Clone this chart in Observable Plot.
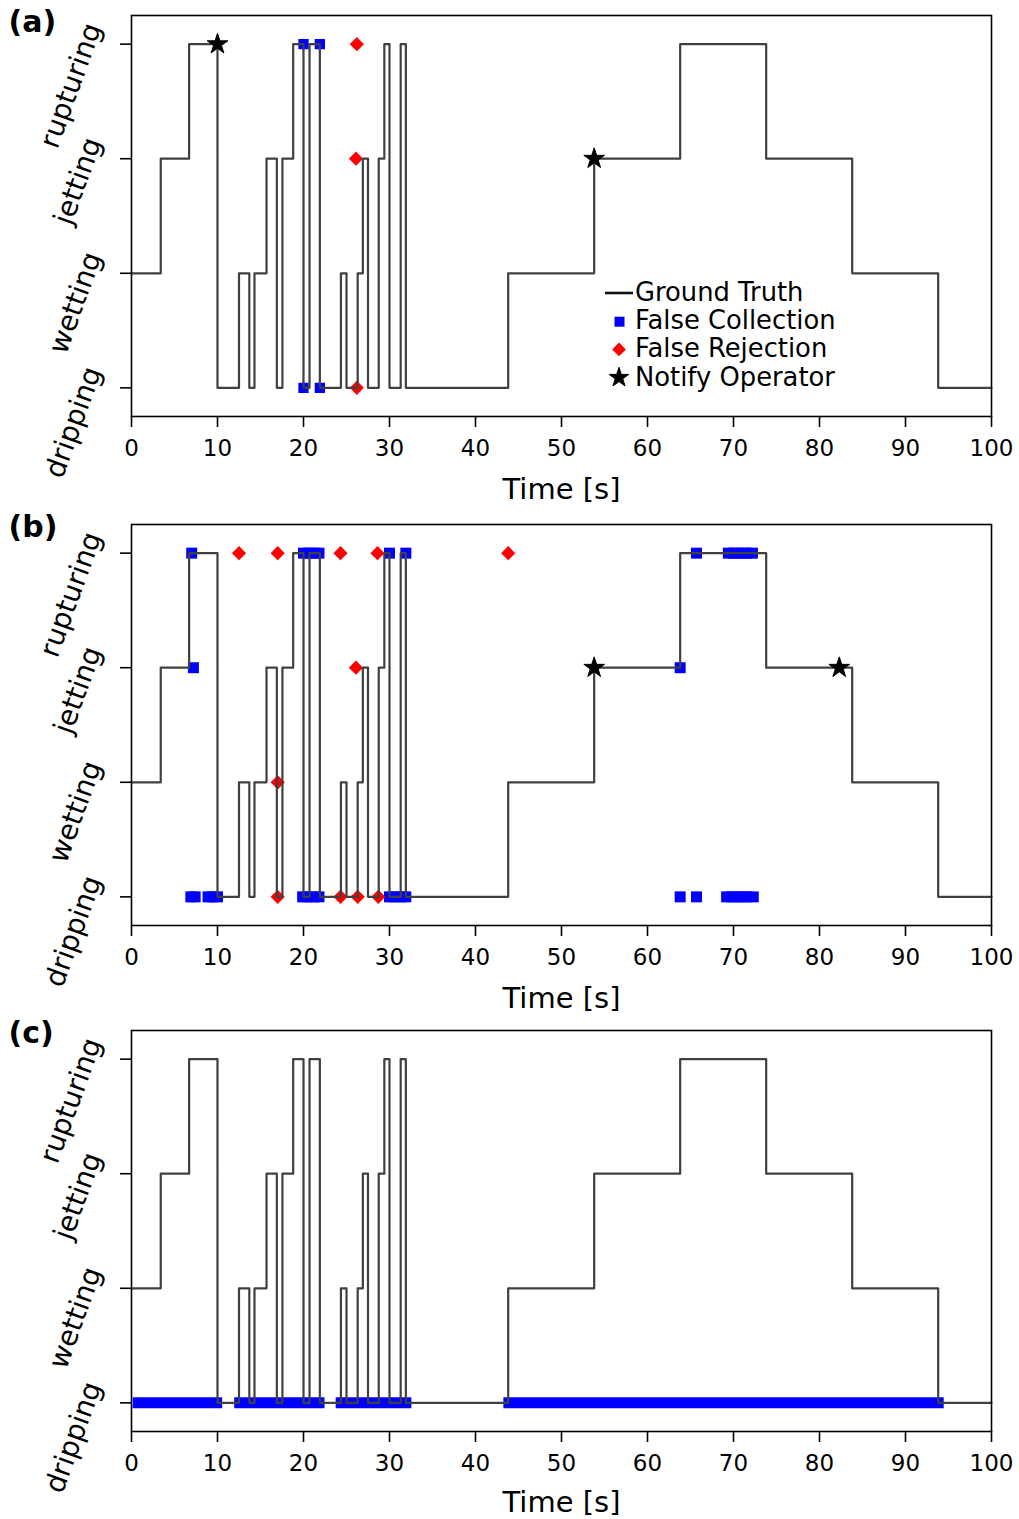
<!DOCTYPE html>
<html><head><meta charset="utf-8">
<script src="https://cdn.jsdelivr.net/npm/d3@7"></script>
<script src="https://cdn.jsdelivr.net/npm/@observablehq/plot@0.6"></script>
<style>
body{margin:0;background:#fff;font-family:"DejaVu Sans",sans-serif;}
#root{position:relative;width:1019px;height:1519px;overflow:hidden;}
#root svg{display:block;}
#legend{position:absolute;left:0;top:0;}
</style></head><body><div id="root"></div>
<script>
// ---- data ----
const categories = ["dripping", "wetting", "jetting", "rupturing"];
const xTicks = [0, 10, 20, 30, 40, 50, 60, 70, 80, 90, 100];

// ground truth (step changes: time -> state)
const gtTime  = [0, 3.4, 6.7, 10.0, 12.5, 13.7, 14.3, 15.7, 16.9, 17.55, 18.8, 20.0, 20.7, 21.9, 24.35, 25.0, 26.3, 26.9, 27.5, 28.75, 29.4, 30.0, 31.3, 31.9, 43.8, 53.8, 63.8, 73.8, 83.8, 93.8, 100];
const gtState = ["wetting","jetting","rupturing","dripping","wetting","dripping","wetting","jetting","dripping","jetting","rupturing","dripping","rupturing","dripping","wetting","dripping","wetting","jetting","dripping","jetting","rupturing","dripping","rupturing","dripping","wetting","jetting","rupturing","jetting","wetting","dripping","dripping"];

// panel (a)
const aCollectionT = [20.0, 21.9, 20.0, 21.9];
const aCollectionS = ["rupturing","rupturing","dripping","dripping"];
const aRejectionT  = [26.2, 26.1, 26.2];
const aRejectionS  = ["rupturing","jetting","dripping"];
const aNotifyT     = [10.0, 53.8];
const aNotifyS     = ["rupturing","jetting"];

// panel (b)
const bCollectionT = [7.0, 20.0, 20.6, 21.2, 21.8, 30.0, 31.9, 65.7, 69.4, 70.0, 70.5, 71.1, 71.6, 72.2,
                      7.2, 63.8,
                      6.9, 7.4, 8.9, 9.4, 10.0, 19.9, 20.5, 21.2, 21.8, 30.0, 30.6, 31.3, 31.9, 63.8, 65.7, 69.2, 69.8, 70.4, 71.0, 71.6, 72.3];
const bCollectionS = ["rupturing","rupturing","rupturing","rupturing","rupturing","rupturing","rupturing","rupturing","rupturing","rupturing","rupturing","rupturing","rupturing","rupturing",
                      "jetting","jetting",
                      "dripping","dripping","dripping","dripping","dripping","dripping","dripping","dripping","dripping","dripping","dripping","dripping","dripping","dripping","dripping","dripping","dripping","dripping","dripping","dripping","dripping"];
const bRejectionT  = [12.5, 17.0, 24.3, 28.6, 43.8, 26.1, 17.0, 17.0, 24.3, 26.3, 28.7];
const bRejectionS  = ["rupturing","rupturing","rupturing","rupturing","rupturing","jetting","wetting","dripping","dripping","dripping","dripping"];
const bNotifyT     = [53.8, 82.3];
const bNotifyS     = ["jetting","jetting"];

// panel (c): continuous runs of false collections (start, end)
const cCollectionStart = [0.2, 12.0, 23.8, 43.3];
const cCollectionEnd   = [10.6, 22.5, 32.6, 94.5];
const cCollectionS     = ["dripping","dripping","dripping","dripping"];

// ---- helpers ----
const idx = s => categories.indexOf(s);
const pts = (T, S) => T.map((t, i) => ({t, s: idx(S[i])}));
const FONT = "DejaVu Sans";

function panel({letter, letterDy = -9, height, marginTop, marginBottom, labelDy = 73, coll = [], rej = [], notify = [], bars = [], sq = 6}) {
  const gt = pts(gtTime, gtState);
  return Plot.plot({
    width: 1019, height, marginTop, marginBottom, marginLeft: 131, marginRight: 28,
    style: {fontFamily: FONT, color: "black", background: "white", overflow: "visible"},
    x: {domain: [0, 100]},
    y: {domain: [-0.25, 3.25]},
    marks: [
      Plot.ruleY(bars, {y: d => d.s, x1: "x1", x2: "x2", stroke: "#0000ff", strokeWidth: 11}),
      Plot.dot(coll, {x: "t", y: "s", symbol: "square", r: sq, fill: "#0000ff", stroke: "none"}),
      Plot.dot(rej, {x: "t", y: "s", symbol: "diamond2", r: 6.4, fill: "#ff0000", stroke: "none"}),
      Plot.line(gt, {x: "t", y: "s", curve: "step-after", stroke: "#404040", strokeWidth: 2.2}),
      Plot.dot(notify, {x: "t", y: "s", symbol: "star", r: 6.5, fill: "black", stroke: "black", strokeWidth: 1}),
      Plot.frame({stroke: "black", strokeWidth: 1.6}),
      Plot.axisX({ticks: xTicks, tickSize: 11, tickPadding: 12, fontSize: 23, label: null, strokeWidth: 1.6, tickFormat: d => String(d)}),
      Plot.axisY({ticks: [0, 1, 2, 3], tickSize: 11, label: null, strokeWidth: 1.6, tickFormat: () => ""}),
      Plot.text(categories.map((c, i) => ({c, i})), {y: "i", text: "c", frameAnchor: "left", dx: -38, dy: -20, rotate: -70, textAnchor: "end", lineAnchor: "middle", fontSize: 28}),
      Plot.text(["Time [s]"], {frameAnchor: "bottom", dy: labelDy, textAnchor: "middle", lineAnchor: "middle", fontSize: 29}),
      Plot.text([letter], {frameAnchor: "top-left", dx: -123, dy: letterDy, textAnchor: "start", lineAnchor: "top", fontSize: 30, fontWeight: "bold"})
    ]
  });
}

const root = document.getElementById("root");
root.appendChild(panel({
  letter: "(a)", letterDy: -5, height: 508, marginTop: 15, marginBottom: 92, sq: 5.8,
  coll: pts(aCollectionT, aCollectionS), rej: pts(aRejectionT, aRejectionS), notify: pts(aNotifyT, aNotifyS)
}));
root.appendChild(panel({
  letter: "(b)", height: 507, marginTop: 16, marginBottom: 90, sq: 6.2,
  coll: pts(bCollectionT, bCollectionS), rej: pts(bRejectionT, bRejectionS), notify: pts(bNotifyT, bNotifyS)
}));
root.appendChild(panel({
  letter: "(c)", height: 504, marginTop: 15, marginBottom: 88, labelDy: 71,
  bars: cCollectionStart.map((x1, i) => ({x1, x2: cCollectionEnd[i], s: idx(cCollectionS[i])}))
}));

// legend for panel (a)
const legendItems = [
  {label: "Ground Truth", kind: "line"},
  {label: "False Collection", kind: "square"},
  {label: "False Rejection", kind: "diamond"},
  {label: "Notify Operator", kind: "star"}
];
const lg = d3.select(root).append("svg").attr("id", "legend").attr("width", 1019).attr("height", 420)
  .style("font-family", FONT);
const y0 = 292, step = 28.2;
legendItems.forEach((it, i) => {
  const y = y0 + i * step;
  if (it.kind === "line") lg.append("line").attr("x1", 605).attr("x2", 633).attr("y1", y + 1).attr("y2", y + 1).attr("stroke", "#111").attr("stroke-width", 2.6);
  if (it.kind === "square") lg.append("rect").attr("x", 614.5).attr("y", y - 3.5).attr("width", 10).attr("height", 10).attr("fill", "#0000ff");
  if (it.kind === "diamond") lg.append("path").attr("d", d3.symbol(d3.symbolDiamond2, 120)()).attr("transform", `translate(619,${y + 1})`).attr("fill", "#ff0000");
  if (it.kind === "star") lg.append("path").attr("d", d3.symbol(d3.symbolStar, 120)()).attr("transform", `translate(619,${y + 1})`).attr("fill", "black").attr("stroke", "black").attr("stroke-width", 1);
  lg.append("text").attr("x", 635).attr("y", y).attr("dy", "0.35em").attr("font-size", 25.8).attr("fill", "black").text(it.label);
});
</script></body></html>
